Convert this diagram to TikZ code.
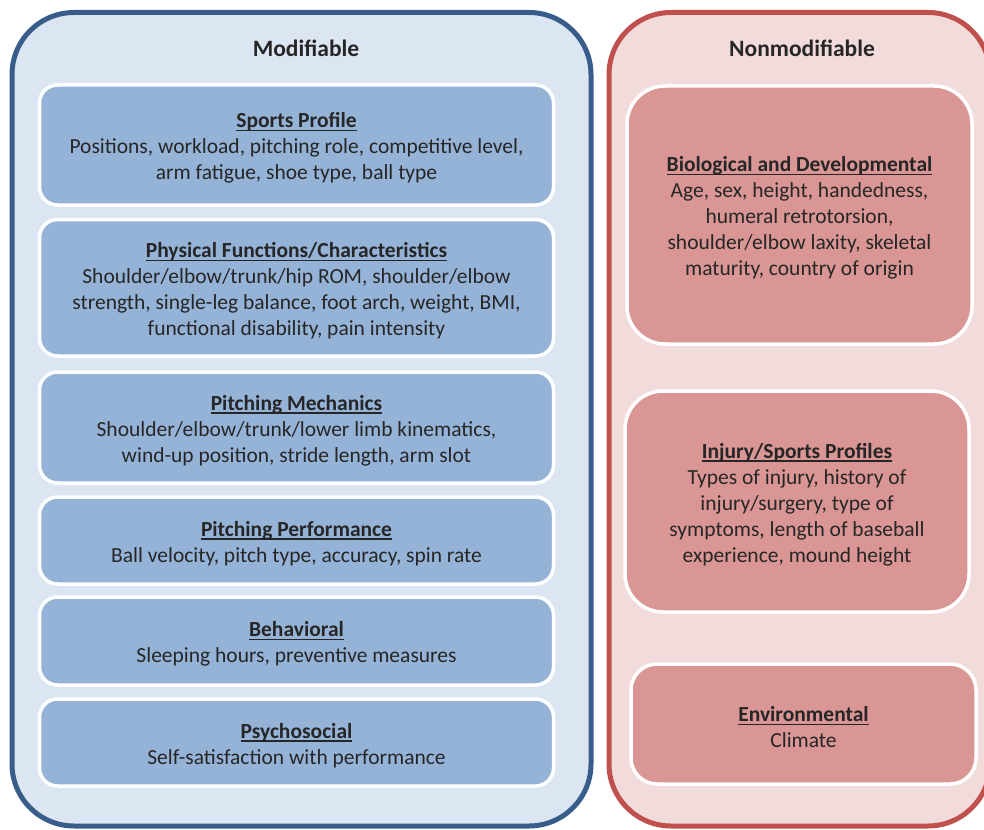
\documentclass[tikz,border=0pt]{standalone}
\usepackage{fontspec}
\setmainfont{Carlito}
\definecolor{bluedark}{HTML}{385D8A}
\definecolor{bluelight}{HTML}{DCE6F2}
\definecolor{bluemid}{HTML}{95B3D7}
\definecolor{reddark}{HTML}{C0504D}
\definecolor{pinklight}{HTML}{F2DCDB}
\definecolor{redmid}{HTML}{D99694}
\definecolor{txt}{HTML}{262626}
\newsavebox{\hdbox}
\newcommand{\hd}[1]{\sbox{\hdbox}{\textbf{#1}}\rule{0pt}{21pt}\makebox[0pt][l]{\rule[-3.4pt]{\wd\hdbox}{1.3pt}}\usebox{\hdbox}}
\tikzset{
  panel/.style={line width=5pt, rounded corners=62pt, inner sep=0pt},
  lpanel/.style={panel, draw=bluedark, fill=bluelight},
  rpanel/.style={panel, draw=reddark, fill=pinklight},
  cat/.style={draw=white, line width=3.5pt, inner sep=0pt, align=center,
    text=txt, font=\fontsize{21.5}{26}\selectfont},
  lcat/.style={cat, fill=bluemid, rounded corners=18pt},
  rcat/.style={cat, fill=redmid, rounded corners=38pt},
  ptitle/.style={text=txt, font=\fontsize{23.5}{26}\selectfont\bfseries}
}
\begin{document}
\begin{tikzpicture}[x=1pt,y=-1pt]
\useasboundingbox (0,0) rectangle (984,829);
\clip (0,0) rectangle (984,829);
% outer panels
\node[lpanel, minimum width=579pt, minimum height=813.5pt] (left) at (301.5,419.25) {};
\node[rpanel, minimum width=381pt, minimum height=813.5pt] (right) at (799.5,419.25) {};
\node[ptitle] (lt) at (306,48.5) {Modifiable};
\node[ptitle] (rt) at (802,48.5) {Nonmodifiable};
% left categories
\node[lcat, minimum width=514pt, minimum height=120pt] (sp) at (296.5,145) {\hd{Sports Profile}\\Positions, workload, pitching role, competitive level,\\arm fatigue, shoe type, ball type};
\node[lcat, minimum width=514pt, minimum height=136.5pt] (pf) at (296.5,287.75) {\hd{Physical Functions/Characteristics}\\Shoulder/elbow/trunk/hip ROM, shoulder/elbow\\strength, single-leg balance, foot arch, weight, BMI,\\functional disability, pain intensity};
\node[lcat, minimum width=514pt, minimum height=111pt] (pm) at (296.5,427.5) {\hd{Pitching Mechanics}\\Shoulder/elbow/trunk/lower limb kinematics,\\wind-up position, stride length, arm slot};
\node[lcat, minimum width=514pt, minimum height=87pt] (pp) at (296.5,540.5) {\hd{Pitching Performance}\\Ball velocity, pitch type, accuracy, spin rate};
\node[lcat, minimum width=514pt, minimum height=88pt] (bh) at (296.5,641) {\hd{Behavioral}\\Sleeping hours, preventive measures};
\node[lcat, minimum width=514pt, minimum height=87pt] (ps) at (296.5,742.5) {\hd{Psychosocial}\\Self-satisfaction with performance};
% right categories
\node[rcat, minimum width=345pt, minimum height=258pt] (bio) at (799.5,215) {\hd{Biological and Developmental}\\Age, sex, height, handedness,\\humeral retrotorsion,\\shoulder/elbow laxity, skeletal\\maturity, country of origin};
\node[rcat, minimum width=344pt, minimum height=221pt] (inj) at (797,501.5) {\hd{Injury/Sports Profiles}\\Types of injury, history of\\injury/surgery, type of\\symptoms, length of baseball\\experience, mound height};
\node[rcat, rounded corners=26pt, minimum width=345pt, minimum height=120pt] (env) at (803.5,724) {\hd{Environmental}\\Climate};
\end{tikzpicture}
\end{document}
